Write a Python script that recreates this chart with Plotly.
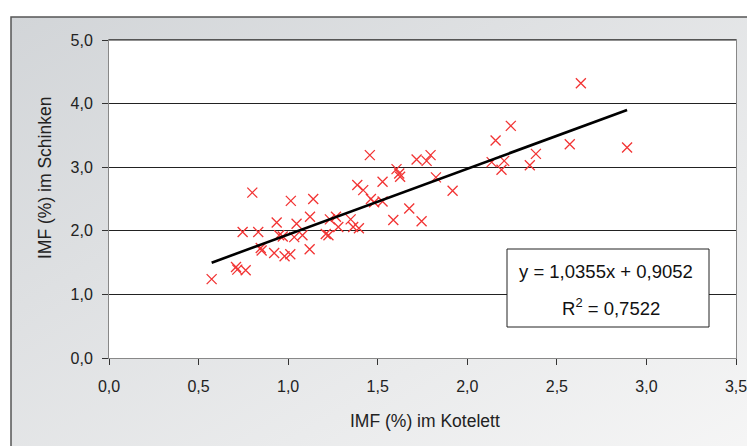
import plotly.graph_objects as go

# Data
kotelett = [0.573, 0.709, 0.716, 0.763, 0.746, 0.800, 0.833, 0.847, 0.852, 0.922,
            0.936, 0.950, 0.970, 0.980, 1.012, 1.015, 1.034, 1.047, 1.080, 1.120,
            1.122, 1.140, 1.210, 1.225, 1.233, 1.267, 1.280, 1.349, 1.363, 1.395,
            1.386, 1.419, 1.456, 1.462, 1.480, 1.527, 1.527, 1.587, 1.605, 1.620,
            1.625, 1.676, 1.717, 1.745, 1.773, 1.795, 1.825, 1.918, 2.136, 2.158,
            2.191, 2.206, 2.243, 2.349, 2.383, 2.572, 2.634, 2.892]
schinken = [1.24, 1.43, 1.39, 1.38, 1.98, 2.60, 1.98, 1.73, 1.69, 1.65,
            2.13, 1.93, 1.91, 1.60, 1.63, 2.47, 1.90, 2.11, 1.93, 1.71,
            2.22, 2.50, 1.95, 1.93, 2.18, 2.22, 2.06, 2.18, 2.06, 2.04,
            2.72, 2.64, 3.19, 2.50, 2.45, 2.77, 2.46, 2.17, 2.97, 2.90,
            2.85, 2.35, 3.12, 2.15, 3.10, 3.19, 2.84, 2.63, 3.08, 3.42,
            2.96, 3.10, 3.65, 3.03, 3.21, 3.36, 4.32, 3.31]

slope = 1.0355
intercept = 0.9052
r2_text = "0,7522"

x_ticks = [0.0, 0.5, 1.0, 1.5, 2.0, 2.5, 3.0, 3.5]
x_labels = ["0,0", "0,5", "1,0", "1,5", "2,0", "2,5", "3,0", "3,5"]
y_ticks = [0, 1, 2, 3, 4, 5]
y_labels = ["0,0", "1,0", "2,0", "3,0", "4,0", "5,0"]

W, H = 747, 446
L, R, T, B = 109, 11, 40, 88
pw, ph = W - L - R, H - T - B


def px(xp):
    return (xp - L) / pw


def py(yp):
    return (H - B - yp) / ph


FONT = "Liberation Sans, Arial, sans-serif"

fig = go.Figure()

fig.add_trace(go.Scatter(
    x=kotelett, y=schinken, mode="markers",
    marker=dict(symbol="x-thin", size=10, line=dict(color="#f23434", width=1.3)),
    showlegend=False, hoverinfo="x+y"))

xmin, xmax = min(kotelett), max(kotelett)
fig.add_trace(go.Scatter(
    x=[xmin, xmax], y=[slope * xmin + intercept, slope * xmax + intercept],
    mode="lines", line=dict(color="black", width=2.6), showlegend=False,
    hoverinfo="skip"))

svg = ("data:image/svg+xml;utf8,<svg xmlns='http://www.w3.org/2000/svg' "
       "viewBox='0 0 100 100' preserveAspectRatio='none'>"
       "<defs><linearGradient id='g' x1='0' y1='0' x2='1' y2='1'>"
       "<stop offset='0' stop-color='%23d2d5d8'/>"
       "<stop offset='1' stop-color='%23f6f6f6'/></linearGradient></defs>"
       "<rect width='100' height='100' fill='url(%23g)'/></svg>")

fig.add_layout_image(dict(
    source=svg, xref="paper", yref="paper",
    x=px(11), y=py(17), sizex=px(760) - px(11), sizey=py(17) - py(460),
    xanchor="left", yanchor="top", sizing="stretch", layer="below"))

shapes = [
    dict(type="rect", xref="paper", yref="paper", x0=0, x1=1, y0=0, y1=1,
         fillcolor="white", line=dict(width=0), layer="below"),
    dict(type="rect", xref="paper", yref="paper",
         x0=px(11), x1=px(760), y0=py(460), y1=py(17),
         line=dict(color="#555555", width=1.5), fillcolor="rgba(0,0,0,0)",
         layer="below"),
    dict(type="line", xref="paper", yref="paper", x0=0, x1=1, y0=1, y1=1,
         line=dict(color="#222222", width=1.2)),
    dict(type="rect", xref="paper", yref="paper",
         x0=px(507), x1=px(709), y0=py(327), y1=py(249),
         fillcolor="white", line=dict(color="#222222", width=1)),
]
fig.update_layout(shapes=shapes)

fig.add_annotation(x=px(606), y=py(271), xref="paper", yref="paper",
                   xanchor="center", yanchor="middle",
                   text=f"y = {str(slope).replace('.', ',')}x + {str(intercept).replace('.', ',')}",
                   showarrow=False, font=dict(family=FONT, size=18.5, color="#111"))
fig.add_annotation(x=px(611), y=py(307), xref="paper", yref="paper",
                   xanchor="center", yanchor="middle",
                   text=f"R<sup>2</sup> = {r2_text}",
                   showarrow=False, font=dict(family=FONT, size=18.5, color="#111"))
fig.add_annotation(x=px(425), y=py(421), xref="paper", yref="paper",
                   xanchor="center", yanchor="middle",
                   text="IMF (%) im Kotelett", showarrow=False,
                   font=dict(family=FONT, size=17.5, color="#222"))
fig.add_annotation(x=px(45), y=py(178), xref="paper", yref="paper",
                   xanchor="center", yanchor="middle",
                   text="IMF (%) im Schinken", showarrow=False, textangle=-90,
                   font=dict(family=FONT, size=17.5, color="#222"))

fig.update_xaxes(range=[0, 3.5], tickvals=x_ticks, ticktext=x_labels,
                 showgrid=False, zeroline=False, showline=True, mirror=True,
                 linecolor="#888888", linewidth=1, ticks="outside", ticklen=6,
                 tickcolor="#333333", ticklabelstandoff=8,
                 ticklabeloverflow="allow", automargin=False,
                 tickfont=dict(family=FONT, size=16, color="#222"), fixedrange=True)
fig.update_yaxes(range=[0, 5], tickvals=y_ticks, ticktext=y_labels,
                 showgrid=True, gridcolor="#222222", gridwidth=1, zeroline=False,
                 showline=True, mirror=True, linecolor="#888888", linewidth=1,
                 ticks="outside", ticklen=6, tickcolor="#333333",
                 ticklabelstandoff=6, ticklabeloverflow="allow", automargin=False,
                 tickfont=dict(family=FONT, size=16, color="#222"), fixedrange=True)

fig.update_layout(width=W, height=H, autosize=False,
                  margin=dict(l=L, r=R, t=T, b=B, pad=0, autoexpand=False),
                  paper_bgcolor="white", plot_bgcolor="rgba(0,0,0,0)",
                  showlegend=False)

fig.write_html("out.html", config={"displayModeBar": False},
               post_script="document.body.style.margin='0';document.body.style.overflow='hidden';")
